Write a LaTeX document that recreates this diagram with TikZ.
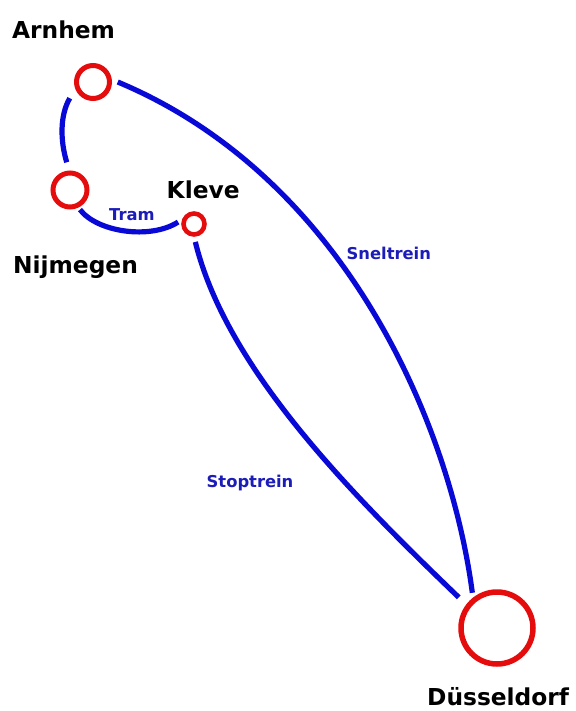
\documentclass[tikz,border=0pt]{standalone}
\usepackage{fontspec}
\setmainfont{DejaVu Sans}
\definecolor{stationred}{RGB}{228,12,12}
\definecolor{lineblue}{RGB}{8,8,215}
\definecolor{labelblue}{RGB}{28,28,185}
\begin{document}
\begin{tikzpicture}[x=1bp,y=-1bp,
  station/.style={circle,draw=stationred,line width=5bp,inner sep=0pt,fill=none},
  route/.style={draw=lineblue,line width=5.2bp},
  city/.style={anchor=base west,inner sep=0pt,text depth=0pt,font=\fontsize{23.4}{23}\selectfont\bfseries},
  service/.style={anchor=base west,inner sep=0pt,text=labelblue,font=\fontsize{16.4}{16}\selectfont\bfseries}]
\useasboundingbox (0,0) rectangle (576,711);

% stations
\node[station,minimum size=33bp,outer sep=8.25bp] (arn) at (93,82) {};
\node[station,minimum size=34bp,outer sep=5bp] (nij) at (70,190) {};
\node[station,minimum size=21bp,line width=4.6bp,outer sep=5.5bp] (kle) at (194,224) {};
\node[station,minimum size=72bp,line width=5.5bp,outer sep=7bp] (dus) at (497,628) {};

% routes
\draw[route,shorten <=4bp,shorten >=6bp] (arn.211) .. controls (60,115) and (60,140) .. (nij.94);
\draw[route] (nij.-63) .. controls (97,232) and (150,240) .. (kle.173);
\draw[route] (arn.0) .. controls (345,177) and (450,424) .. (dus.125.5);
\draw[route,shorten <=2bp,shorten >=6bp] (kle.-87) .. controls (226,367) and (348,491) .. (dus.142.4);

% station names
\node[city] (lbl-arn) at (12,38.3) {Arnhem};
\node[city] (lbl-nij) at (13,273.3) {Nijmegen};
\node[city] (lbl-kle) at (166.5,198.3) {Kleve};
\node[city] (lbl-dus) at (427,705.5) {Düsseldorf};

% service names
\node[service] (lbl-tram) at (109,220) {Tram};
\node[service] (lbl-snel) at (346.5,259.5) {Sneltrein};
\node[service] (lbl-stop) at (206.5,487) {Stoptrein};
\end{tikzpicture}
\end{document}
